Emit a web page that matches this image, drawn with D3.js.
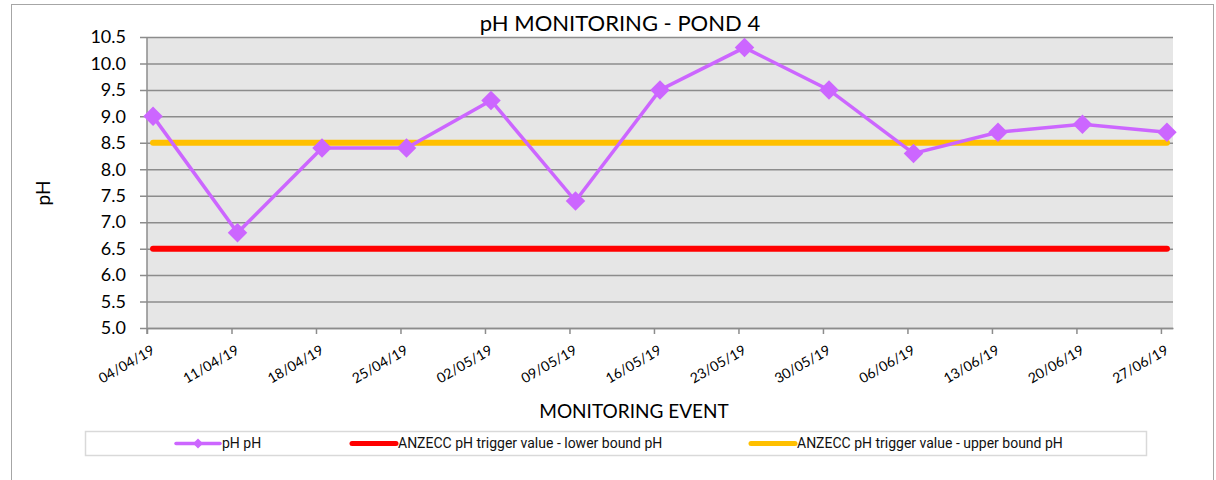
<!DOCTYPE html>
<html>
<head>
<meta charset="utf-8">
<script src="https://cdn.jsdelivr.net/npm/d3@7"></script>
<style>
  body { margin: 0; background: #fff; }
  svg { display: block; }
</style>
</head>
<body>
<div class="chart"></div>
<script>
const width = 1216
const height = 480

// chart data
const dates = ["04/04/19", "11/04/19", "18/04/19", "25/04/19", "02/05/19", "09/05/19", "16/05/19",
               "23/05/19", "30/05/19", "06/06/19", "13/06/19", "20/06/19", "27/06/19"]
const phValues = [9.0, 6.8, 8.4, 8.4, 9.3, 7.4, 9.5, 10.3, 9.5, 8.3, 8.7, 8.85, 8.7]
const lowerBound = [6.5, 6.5, 6.5, 6.5, 6.5, 6.5, 6.5, 6.5, 6.5, 6.5, 6.5, 6.5, 6.5]
const upperBound = [8.5, 8.5, 8.5, 8.5, 8.5, 8.5, 8.5, 8.5, 8.5, 8.5, 8.5, 8.5, 8.5]
const yTicks = [5.0, 5.5, 6.0, 6.5, 7.0, 7.5, 8.0, 8.5, 9.0, 9.5, 10.0, 10.5]
const seriesNames = ["pH pH", "ANZECC pH trigger value - lower bound pH", "ANZECC pH trigger value - upper bound pH"]
const seriesColors = ["#CC66FF", "#FF0000", "#FFC000"]

const parse = d3.utcParse("%d/%m/%y")
const fmt = d3.utcFormat("%d/%m/%y")
const days = dates.map(parse)
const lastDay = d3.utcDay.offset(days[days.length - 1], 1)

const plotL = 147, plotR = 1173, plotT = 37, plotB = 328

const x = d3.scaleUtc()
    .domain([days[0], lastDay])
    .range([plotL, plotR])

const y = d3.scaleLinear()
    .domain([5.0, 10.5])
    .range([plotB, plotT])

// points sit in the middle of their day
const xMid = d => x(d3.utcHour.offset(d, 12))

const svg = d3.select('.chart').append('svg')
    .attr('width', width)
    .attr('height', height)
    .attr('viewBox', [0, 0, width, height])

// outer chart border
svg.append('rect')
    .attr('x', 11.5).attr('y', 4.5)
    .attr('width', 1202).attr('height', 500)
    .attr('fill', 'none')
    .attr('stroke', '#a6a6a6')

// plot background
svg.append('rect')
    .attr('x', plotL).attr('y', plotT)
    .attr('width', plotR - plotL).attr('height', plotB - plotT)
    .attr('fill', '#e6e6e6')

// gridlines + y axis
const yAxis = svg.append('g')
    .attr('transform', `translate(${plotL},0)`)
    .call(d3.axisLeft(y).tickValues(yTicks).tickFormat(d3.format('.1f'))
        .tickSize(-(plotR - plotL)).tickSizeOuter(0).tickPadding(21))
yAxis.select('.domain').remove()
yAxis.selectAll('.tick line')
    .attr('stroke', '#8c8c8c').attr('stroke-width', 1.5)
    .attr('x1', -7)
yAxis.selectAll('.tick text')
    .attr('font-family', 'Lato, sans-serif')
    .attr('font-size', 18)
    .attr('fill', '#000')

svg.append('line')
    .attr('x1', plotL).attr('x2', plotL)
    .attr('y1', plotT).attr('y2', plotB + 6)
    .attr('stroke', '#8c8c8c').attr('stroke-width', 1.5)

// x axis
const xAxis = svg.append('g')
    .attr('transform', `translate(0,${plotB})`)
    .call(d3.axisBottom(x).tickValues(days).tickFormat(fmt).tickSize(6).tickSizeOuter(0))
xAxis.select('.domain').attr('stroke', '#8c8c8c').attr('stroke-width', 1.5)
xAxis.selectAll('.tick line').attr('stroke', '#8c8c8c').attr('stroke-width', 1.5)
xAxis.selectAll('.tick text')
    .attr('font-family', 'Lato, sans-serif')
    .attr('font-size', 14)
    .attr('fill', '#000')
    .attr('text-anchor', 'end')
    .attr('dy', 0)
    .attr('y', 0)
    .attr('transform', 'translate(8,25) rotate(-30)')

// trigger value lines
const line = d3.line()
    .x((d, i) => xMid(days[i]))
    .y(d => y(d))

svg.append('path')
    .datum(lowerBound)
    .attr('d', line)
    .attr('fill', 'none')
    .attr('stroke', seriesColors[1])
    .attr('stroke-width', 6)
    .attr('stroke-linecap', 'round')

svg.append('path')
    .datum(upperBound)
    .attr('d', line)
    .attr('fill', 'none')
    .attr('stroke', seriesColors[2])
    .attr('stroke-width', 6)
    .attr('stroke-linecap', 'round')

// pH series
svg.append('path')
    .datum(phValues)
    .attr('d', line)
    .attr('fill', 'none')
    .attr('stroke', seriesColors[0])
    .attr('stroke-width', 3.5)

const diamond = d3.symbol().type(d3.symbolSquare).size(190)
svg.append('g')
    .selectAll('path')
    .data(phValues)
    .join('path')
    .attr('d', diamond)
    .attr('transform', (d, i) => `translate(${xMid(days[i])},${y(d)}) rotate(45)`)
    .attr('fill', seriesColors[0])

// titles
svg.append('text')
    .attr('x', 620).attr('y', 31)
    .attr('text-anchor', 'middle')
    .attr('font-family', 'Lato, sans-serif')
    .attr('font-size', 22)
    .text('pH MONITORING - POND 4')

svg.append('text')
    .attr('transform', 'translate(50,193) rotate(-90)')
    .attr('text-anchor', 'middle')
    .attr('font-family', 'Lato, sans-serif')
    .attr('font-size', 19)
    .text('pH')

svg.append('text')
    .attr('x', 634).attr('y', 418)
    .attr('text-anchor', 'middle')
    .attr('font-family', 'Lato, sans-serif')
    .attr('font-size', 19)
    .text('MONITORING EVENT')

// legend
svg.append('rect')
    .attr('x', 85.5).attr('y', 431.5)
    .attr('width', 1061).attr('height', 24)
    .attr('fill', 'none')
    .attr('stroke', '#d9d9d9')
    .attr('stroke-width', 1.5)

const legendX = [176, 352, 751]
const legend = svg.append('g')
    .selectAll('g')
    .data(seriesNames)
    .join('g')
    .attr('transform', (d, i) => `translate(${legendX[i]},443.5)`)

legend.append('line')
    .attr('x1', 0).attr('x2', 44)
    .attr('stroke', (d, i) => seriesColors[i])
    .attr('stroke-width', (d, i) => i == 0 ? 3.5 : 5)
    .attr('stroke-linecap', 'round')

legend.filter((d, i) => i == 0).append('path')
    .attr('d', d3.symbol().type(d3.symbolSquare).size(50))
    .attr('transform', 'translate(22,0) rotate(45)')
    .attr('fill', seriesColors[0])

legend.append('text')
    .attr('x', 46)
    .attr('dy', '0.35em')
    .attr('font-family', 'Roboto, sans-serif')
    .attr('font-size', 14)
    .attr('fill', '#111')
    .text(d => d)
</script>
</body>
</html>
